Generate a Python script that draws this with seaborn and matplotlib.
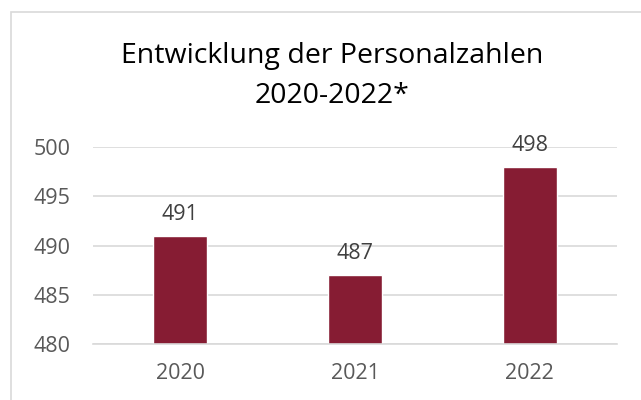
import pandas as pd
import matplotlib.pyplot as plt
import seaborn as sns
from matplotlib.patches import Rectangle

# Data
years = ['2020', '2021', '2022']
staff = [491, 487, 498]
yticks = [480, 485, 490, 495, 500]
title = 'Entwicklung der Personalzahlen\n2020-2022*'

df = pd.DataFrame({'year': years, 'staff': staff})

sns.set_style('white')
plt.rcParams['font.family'] = ['Open Sans', 'DejaVu Sans']

fig = plt.figure(figsize=(6.41, 4.0), dpi=100)
ax = fig.add_axes([0.145, 0.14, 0.8175, 0.4925])

sns.barplot(data=df, x='year', y='staff', color='#861C33', width=0.31,
            saturation=1, ax=ax)

ax.set_ylim(480, 500)
ax.set_yticks(yticks)
ax.set_xlim(-0.5, 2.5)
ax.grid(axis='y', color='#d9d9d9', linewidth=1.2)
ax.set_axisbelow(True)
for s in ['top', 'right', 'left']:
    ax.spines[s].set_visible(False)
ax.spines['bottom'].set_color('#d9d9d9')
ax.spines['bottom'].set_linewidth(1.2)

ax.tick_params(axis='y', length=0, labelsize=15.5, labelcolor='#595959', pad=16)
ax.tick_params(axis='x', which='major', length=0, labelsize=15.5,
               labelcolor='#595959', pad=14)
ax.set_xticks([-0.5, 0.5, 1.5, 2.5], minor=True)
ax.tick_params(axis='x', which='minor', length=5, color='#d9d9d9', width=1.2)
ax.set_xlabel('')
ax.set_ylabel('')

for i, v in enumerate(staff):
    ax.annotate(str(v), (i, v), xytext=(0, 8), textcoords='offset points',
                ha='center', va='bottom', fontsize=15.5, color='#404040',
                annotation_clip=False)

fig.text(0.518, 0.81, title, ha='center', va='center', fontsize=20.5,
         color='black', linespacing=1.55)

# chart frame (partly cut off in the original)
fig.patches.append(Rectangle((11 / 641, -0.1), 1.1, 1.07, transform=fig.transFigure,
                             fill=False, edgecolor='#d9d9d9', linewidth=1.2))

fig.savefig('out.png', dpi=100)
